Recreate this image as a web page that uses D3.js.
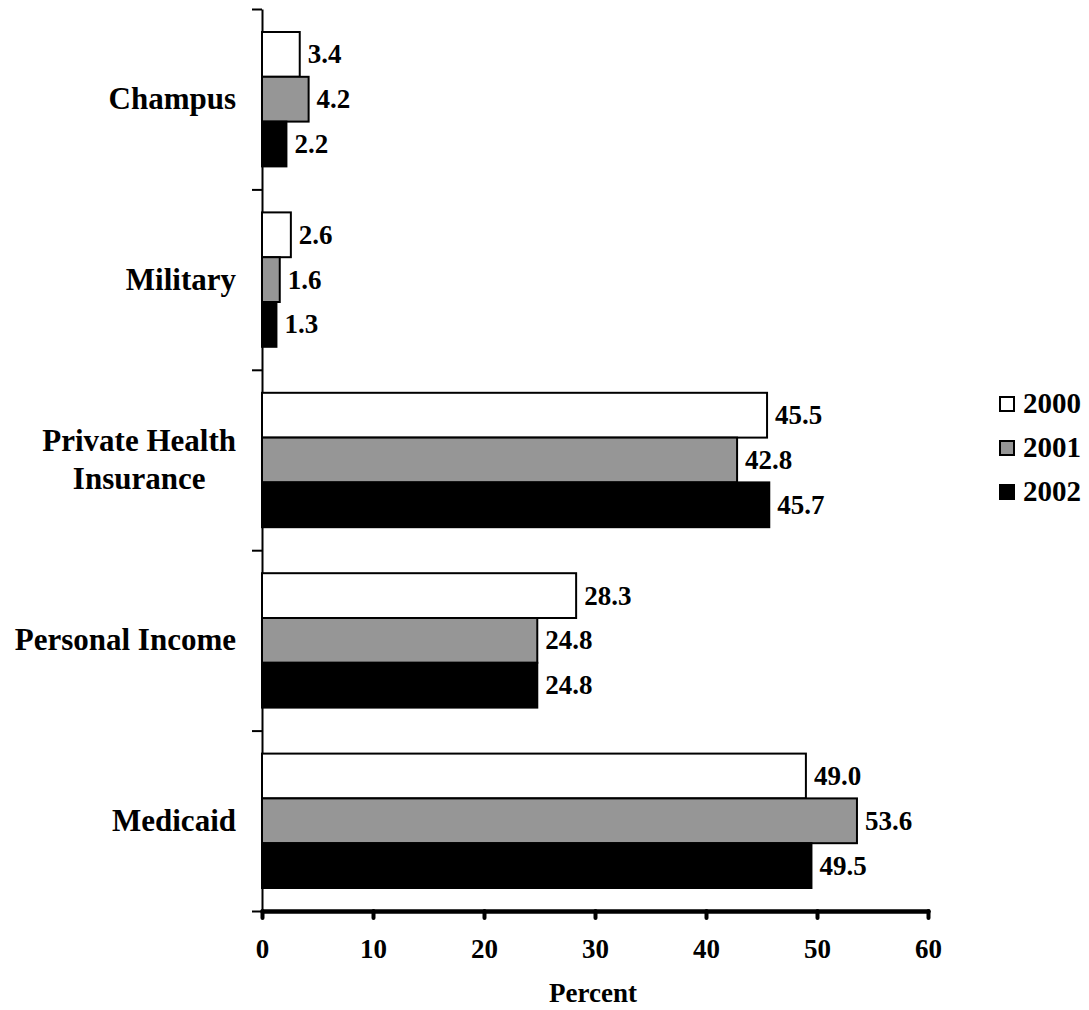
<!DOCTYPE html>
<html>
<head>
<meta charset="utf-8">
<script src="https://cdn.jsdelivr.net/npm/d3@7"></script>
<style>
  html, body { margin: 0; padding: 0; background: #fff; }
  svg { display: block; font-family: "Liberation Serif", "Times New Roman", serif; font-weight: bold; }
</style>
</head>
<body>
<svg id="chart" width="1089" height="1010"></svg>
<script>
// Payer categories, top to bottom
const categories = ["Champus", "Military", "Private Health Insurance", "Personal Income", "Medicaid"];
const categoryLines = [["Champus"], ["Military"], ["Private Health", "Insurance"], ["Personal Income"], ["Medicaid"]];
const years = ["2000", "2001", "2002"];
const values2000 = [3.4, 2.6, 45.5, 28.3, 49.0];
const values2001 = [4.2, 1.6, 42.8, 24.8, 53.6];
const values2002 = [2.2, 1.3, 45.7, 24.8, 49.5];
const xTicks = [0, 10, 20, 30, 40, 50, 60];
const axisTitle = "Percent";

const seriesValues = [values2000, values2001, values2002];
const fills = ["#ffffff", "#969696", "#000000"];

const svg = d3.select("#chart");

const x = d3.scaleLinear().domain([0, 60]).range([262, 928]);
const y = d3.scaleBand().domain(categories).range([9, 911])
  .paddingInner(0.255).paddingOuter(0.1275);
const ySub = d3.scaleBand().domain(years).range([0, y.bandwidth()]);

// Left axis: ticks sit on the boundaries between categories
const yBound = d3.scaleLinear().domain([0, categories.length]).range([9, 911]);
svg.append("g")
  .attr("transform", `translate(${x(0)},0)`)
  .call(d3.axisLeft(yBound).ticks(categories.length).tickFormat("").tickSize(10).tickSizeOuter(0))
  .call(g => g.selectAll("path, line").attr("stroke", "#000").attr("stroke-width", 2));

// Bars
const rows = [];
years.forEach((yr, si) => {
  categories.forEach((c, ci) => {
    rows.push({ cat: c, year: yr, si, value: seriesValues[si][ci] });
  });
});

const barG = svg.append("g");
barG.selectAll("rect").data(rows).join("rect")
  .attr("x", x(0))
  .attr("y", d => y(d.cat) + ySub(d.year))
  .attr("width", d => x(d.value) - x(0))
  .attr("height", ySub.bandwidth())
  .attr("fill", d => fills[d.si])
  .attr("stroke", "#000")
  .attr("stroke-width", 2);

// Value labels
barG.selectAll("text").data(rows).join("text")
  .attr("x", d => x(d.value) + 8)
  .attr("y", d => y(d.cat) + ySub(d.year) + ySub.bandwidth() / 2 + 9)
  .attr("font-size", 27)
  .text(d => d.value.toFixed(1));

// Bottom axis
const xAxisG = svg.append("g")
  .attr("transform", "translate(0,911)")
  .call(d3.axisBottom(x).tickValues(xTicks).tickSize(7).tickSizeOuter(0).tickPadding(21));
xAxisG.select(".domain").attr("stroke", "#000").attr("stroke-width", 4.5).attr("stroke-linecap", "round");
xAxisG.selectAll(".tick line").attr("stroke", "#000").attr("stroke-width", 4).attr("stroke-linecap", "round");
xAxisG.selectAll(".tick text")
  .attr("fill", "#000")
  .attr("font-size", 27)
  .attr("font-family", "Liberation Serif, serif")
  .attr("font-weight", "bold");

// Axis title
svg.append("text")
  .attr("x", (x(0) + x(60)) / 2 - 2)
  .attr("y", 1002)
  .attr("text-anchor", "middle")
  .attr("font-size", 27)
  .text(axisTitle);

// Category labels: centred block, right edge aligned next to the axis
const labelRight = 236;
const lineGap = 38;
categories.forEach((c, ci) => {
  const lines = categoryLines[ci];
  const t = svg.append("text").attr("font-size", 31).attr("text-anchor", "middle");
  const cy = y(c) + y.bandwidth() / 2 + 10 - (lines.length - 1) * lineGap / 2;
  lines.forEach((ln, li) => {
    t.append("tspan").attr("y", cy + li * lineGap).text(ln);
  });
  let maxW = 0;
  t.selectAll("tspan").each(function () { maxW = Math.max(maxW, this.getComputedTextLength()); });
  t.selectAll("tspan").attr("x", labelRight - maxW / 2);
});

// Legend
const legend = svg.append("g").attr("transform", "translate(1000,397)");
years.forEach((yr, i) => {
  const g = legend.append("g").attr("transform", `translate(0,${i * 44})`);
  g.append("rect").attr("x", 0).attr("y", 0).attr("width", 14).attr("height", 14)
    .attr("fill", fills[i]).attr("stroke", "#000").attr("stroke-width", 2);
  g.append("text").attr("x", 23).attr("y", 16).attr("font-size", 29).text(yr);
});
</script>
</body>
</html>
